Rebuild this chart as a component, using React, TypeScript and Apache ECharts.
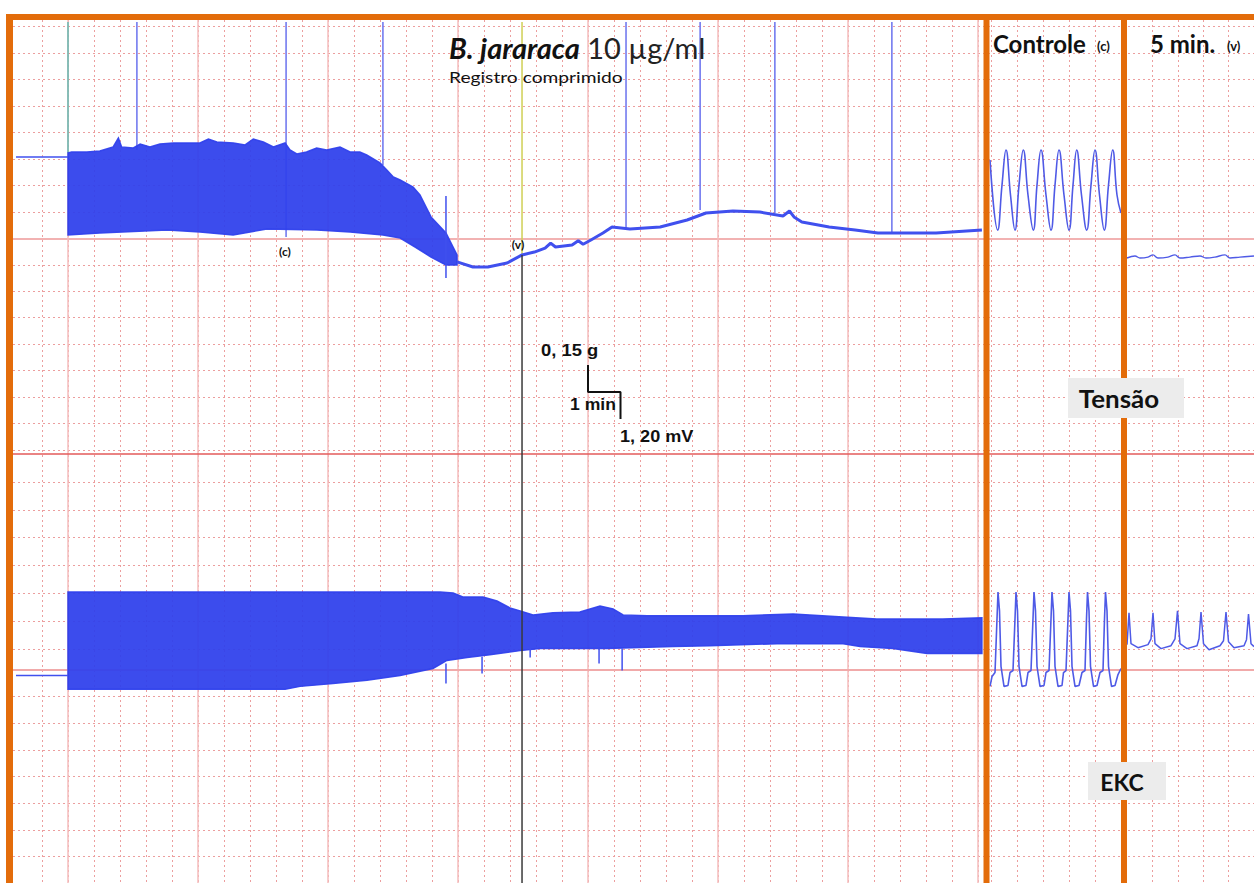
import React, { useEffect, useRef } from "react";
import * as echarts from "echarts";

// ===== Compressed record (main panel): time in minutes, tension in g, EKC in mV =====
const TIME_MIN = -1.6;
const TIME_MAX = 28.2;
const TENSION_MIN = 0;
const TENSION_MAX = 2.4;
const EKC_MIN = -9.6;
const EKC_MAX = 9.6;

// Tension baseline before recording starts
const tensionBaseline: [number, number][] = [[-1.6, 1.65], [0, 1.65]];

// Envelope of the dense tension oscillation (upper = systolic, lower = diastolic)
const tensionUpper: [number, number][] = [
  [0, 1.672], [0.11, 1.678], [0.58, 1.678], [0.98, 1.683], [1.39, 1.706], [1.55, 1.756], [1.65, 1.706],
  [2.01, 1.7], [2.22, 1.722], [2.52, 1.706], [2.83, 1.722], [3.24, 1.728], [3.65, 1.728], [4.06, 1.728],
  [4.32, 1.75], [4.58, 1.733], [5.09, 1.728], [5.45, 1.717], [5.7, 1.75], [6.01, 1.733], [6.32, 1.706],
  [6.68, 1.728], [6.83, 1.689], [7.04, 1.667], [7.34, 1.678], [7.65, 1.7], [7.96, 1.689], [8.37, 1.706],
  [8.68, 1.678], [8.98, 1.678], [9.19, 1.661], [9.6, 1.617], [9.81, 1.578], [10.01, 1.539], [10.22, 1.522],
  [10.62, 1.483], [10.83, 1.439], [11.17, 1.317], [11.63, 1.228], [11.97, 1.106],
];
const tensionLower: [number, number][] = [
  [0, 1.217], [0.98, 1.228], [3.05, 1.244], [4.06, 1.233], [5.08, 1.217], [6.12, 1.25], [7.66, 1.244],
  [8.68, 1.233], [9.69, 1.217], [10.22, 1.2], [10.68, 1.15], [11.17, 1.094], [11.63, 1.05], [11.97, 1.05],
];
// Tension after contractions stop
const tensionTrace: [number, number][] = [
  [11.97, 1.067], [12.46, 1.039], [12.92, 1.039], [13.51, 1.061], [13.97, 1.106], [14.35, 1.122],
  [14.68, 1.144], [14.85, 1.172], [15.0, 1.15], [15.51, 1.161], [15.7, 1.185], [15.85, 1.165],
  [16.09, 1.189], [16.46, 1.228], [16.74, 1.261], [17.29, 1.25], [18.22, 1.261], [19.05, 1.3],
  [19.63, 1.339], [20.46, 1.35], [21.29, 1.344], [22.0, 1.322], [22.2, 1.35], [22.35, 1.315],
  [22.58, 1.289], [23.42, 1.261], [24.22, 1.244], [24.92, 1.228], [25.54, 1.228], [26.71, 1.228],
  [28.12, 1.244],
];
// Event markers: time (min) and lower end (g) of each vertical line
const eventTimes = [0, 2.12, 6.71, 9.69, 13.97, 17.17, 19.45, 21.75, 25.35];
const eventEnds = [1.672, 1.689, 1.206, 1.606, 1.106, 1.244, 1.356, 1.339, 1.228];
const eventColors = ["#63b9b0", "#6a72ee", "#6a72ee", "#6a72ee", "#cfcf55", "#6a72ee", "#6a72ee", "#6a72ee", "#6a72ee"];
const venomTime = 13.97;
const venomTensionEnd = 1.106;

// Artefact spikes: [time, from, to]
const tensionSpikes: [number, number, number][] = [[11.63, 1.433, 0.978]];
const ekcSpikes: [number, number, number][] = [
  [11.63, 0.22, -0.67], [12.74, 0.53, -0.22], [14.22, 0.89, 0.49], [16.34, 0.89, 0.22], [17.05, 0.89, -0.09],
];

// EKC (main panel)
const ekcBaseline: [number, number][] = [[-1.6, -0.31], [0, -0.31]];
const ekcUpper: [number, number][] = [
  [0, 3.42], [11.45, 3.42], [11.85, 3.38], [12.15, 3.2], [12.77, 3.2], [13.2, 3.02], [13.6, 2.71],
  [13.91, 2.58], [14.31, 2.4], [14.92, 2.49], [15.75, 2.53], [16.37, 2.8], [16.77, 2.67], [17.08, 2.4],
  [17.82, 2.36], [19.66, 2.36], [20.77, 2.36], [22.31, 2.44], [23.85, 2.31], [24.89, 2.22], [26.92, 2.22],
  [28.12, 2.27],
];
const ekcLower: [number, number][] = [
  [0, -0.93], [6.68, -0.93], [7.14, -0.8], [8.15, -0.67], [9.2, -0.53], [10.22, -0.31], [11.23, 0],
  [11.66, 0.36], [12.28, 0.49], [12.98, 0.62], [13.91, 0.8], [14.52, 0.89], [16.58, 0.89], [18.62, 0.98],
  [19.75, 1.02], [21.82, 1.11], [23.85, 1.11], [24.37, 0.98], [25.38, 0.89], [26.43, 0.67], [28.12, 0.67],
];

// Scale bar (in tension units): 0,15 g vertical, 1 min horizontal, 1,20 mV vertical
const scaleBar: [number, number][] = [[16, 0.494], [16, 0.344], [17, 0.344], [17, 0.194]];

// ===== Expanded panels: time in s =====
const ctrlTension: [number, number][] = [
  [0, 1.633], [0.077, 1.244], [0.12, 1.494], [0.16, 1.689], [0.205, 1.439], [0.25, 1.244], [0.29, 1.494],
  [0.333, 1.689], [0.38, 1.439], [0.433, 1.244], [0.47, 1.494], [0.51, 1.689], [0.56, 1.439], [0.61, 1.244],
  [0.65, 1.494], [0.69, 1.689], [0.74, 1.439], [0.79, 1.244], [0.83, 1.494], [0.867, 1.689], [0.915, 1.439],
  [0.967, 1.244], [1.01, 1.494], [1.05, 1.689], [1.095, 1.439], [1.143, 1.244], [1.185, 1.494], [1.227, 1.689],
  [1.27, 1.439], [1.31, 1.339],
];
const ctrlEkc: [number, number][] = [
  [0, -0.8], [0.02, -0.36], [0.05, -0.18], [0.07, 2.22], [0.08, 3.42], [0.095, 2.58], [0.11, 0.09], [0.14, -0.8], [0.18, -0.76],
  [0.2, -0.18], [0.23, -0.09], [0.25, 2.22], [0.26, 3.42], [0.275, 2.58], [0.29, 0.09], [0.32, -0.8], [0.36, -0.76],
  [0.38, -0.18], [0.41, -0.09], [0.43, 2.22], [0.44, 3.42], [0.455, 2.58], [0.47, 0.09], [0.5, -0.8], [0.54, -0.76],
  [0.56, -0.18], [0.59, -0.09], [0.61, 2.22], [0.62, 3.42], [0.635, 2.58], [0.65, 0.09], [0.68, -0.8], [0.72, -0.76],
  [0.735, -0.18], [0.76, -0.09], [0.78, 2.22], [0.79, 3.42], [0.805, 2.58], [0.82, 0.09], [0.85, -0.8], [0.89, -0.76],
  [0.92, -0.18], [0.95, -0.09], [0.965, 2.22], [0.975, 3.42], [0.99, 2.58], [1.005, 0.09], [1.035, -0.8], [1.07, -0.76],
  [1.1, -0.18], [1.13, -0.09], [1.145, 2.22], [1.155, 3.42], [1.17, 2.58], [1.185, 0.09], [1.215, -0.8], [1.25, -0.76],
  [1.28, -0.27], [1.31, 0],
];
const fiveTension: [number, number][] = [
  [0, 1.089], [0.08, 1.1], [0.13, 1.089], [0.21, 1.094], [0.26, 1.106], [0.31, 1.089], [0.41, 1.094],
  [0.48, 1.106], [0.53, 1.089], [0.63, 1.094], [0.73, 1.1], [0.79, 1.089], [0.88, 1.094], [0.98, 1.106],
  [1.03, 1.089], [1.13, 1.094], [1.27, 1.1],
];
const fiveEkc: [number, number][] = [
  [0, 1.07], [0.02, 2.49], [0.04, 1.11], [0.11, 0.93], [0.21, 1.07], [0.24, 1.33], [0.26, 2.49], [0.28, 1.11],
  [0.34, 0.89], [0.44, 1.02], [0.48, 1.33], [0.505, 2.58], [0.53, 1.11], [0.6, 0.89], [0.7, 1.02], [0.72, 1.33],
  [0.74, 2.53], [0.765, 1.11], [0.82, 0.84], [0.93, 1.02], [0.965, 1.24], [0.99, 2.53], [1.015, 1.2], [1.07, 0.93],
  [1.17, 1.02], [1.195, 1.29], [1.215, 2.44], [1.24, 1.11], [1.27, 0.98],
];

const ORANGE = "#e36c0a";
const DOT = { color: "#ec9e9e", width: 1, type: [2, 3] as number[] };
const BAND = "#3041ec";
const TRACE = "#4050ee";
const SIDE = "#4f5ae6";

const hidden = { show: false };

function bgAxis(gridIndex: number, extra: any) {
  return {
    gridIndex,
    type: "value",
    axisLine: { show: false },
    axisTick: { show: false },
    axisLabel: { show: false },
    ...extra,
  };
}

function bandSeries(idx: number, upper: [number, number][], lower: [number, number][]) {
  return {
    type: "custom",
    xAxisIndex: idx,
    yAxisIndex: idx,
    z: 5,
    silent: true,
    clip: false,
    data: [upper[0]],
    renderItem: (_p: any, api: any) => {
      const pts = upper.map((p) => api.coord(p)).concat(lower.slice().reverse().map((p) => api.coord(p)));
      return {
        type: "polygon",
        shape: { points: pts },
        style: { fill: BAND, opacity: 0.94, stroke: BAND, lineWidth: 1.5 },
      };
    },
  };
}

function spikeSeries(idx: number, spikes: [number, number, number][], color: string) {
  return {
    type: "custom",
    xAxisIndex: idx,
    yAxisIndex: idx,
    z: 6,
    silent: true,
    data: spikes,
    renderItem: (_p: any, api: any) => {
      const a = api.coord([api.value(0), api.value(1)]);
      const b = api.coord([api.value(0), api.value(2)]);
      return { type: "line", shape: { x1: a[0], y1: a[1], x2: b[0], y2: b[1] }, style: { stroke: color, lineWidth: 1.5 } };
    },
  };
}

function lineSeries(idx: number, data: any[], color: string, width: number, extra: any = {}) {
  return {
    type: "line",
    xAxisIndex: idx,
    yAxisIndex: idx,
    data,
    showSymbol: false,
    silent: true,
    z: 6,
    lineStyle: { color, width },
    ...extra,
  };
}

function text(x: number, y: number, t: string, font: any, align = "left", scaleX = 1) {
  return {
    type: "text",
    x,
    y,
    scaleX,
    z: 120,
    silent: true,
    style: {
      text: t,
      fill: "#111",
      align,
      textAlign: align,
      verticalAlign: "middle",
      textVerticalAlign: "middle",
      ...font,
    },
  };
}

export default function App() {
  const ref = useRef<HTMLDivElement>(null);
  useEffect(() => {
    const chart = echarts.init(ref.current!, null, { renderer: "svg" });
    const grids = [
      { left: 13, right: 0, top: 26.7, height: 423.2 }, // 0 horizontal lines (top)
      { left: 13, right: 0, top: 454, height: 195.3 }, // 1 horizontal lines (bottom a)
      { left: 16, width: 962, top: 20, bottom: 0 }, // 2 vertical minor main
      { left: 68, width: 910, top: 20, bottom: 0 }, // 3 vertical major main
      { left: 991, width: 130, top: 20, bottom: 0 }, // 4 vertical ctrl
      { left: 1127, width: 130, top: 20, bottom: 0 }, // 5 vertical five
      { left: 16, width: 968.5, top: 22, height: 432 }, // 6 main tension
      { left: 16, width: 968.5, top: 454, height: 432 }, // 7 main EKC
      { left: 990, width: 131, top: 22, height: 432 }, // 8 ctrl tension
      { left: 990, width: 131, top: 454, height: 432 }, // 9 ctrl EKC
      { left: 1127, width: 127, top: 22, height: 432 }, // 10 five tension
      { left: 1127, width: 127, top: 454, height: 432 }, // 11 five EKC
      { left: 13, right: 0, top: 670, height: 223.2 }, // 12 horizontal lines (bottom b)
    ];
    const xAxis: any[] = [
      bgAxis(0, { show: false, min: 0, max: 1 }),
      bgAxis(1, { position: "top", min: 0, max: 1, axisLine: { show: true, onZero: false, lineStyle: { color: "#e35b5b", width: 1.5 } }, splitLine: hidden }),
      bgAxis(2, { min: 0, max: 37, interval: 1, splitLine: { show: true, showMinLine: false, lineStyle: DOT } }),
      bgAxis(3, { min: 0, max: 7, interval: 1, splitLine: { show: true, lineStyle: { color: "#f4bdbd", width: 1.5 } } }),
      bgAxis(4, { min: 0, max: 5, interval: 1, splitLine: { show: true, showMaxLine: false, lineStyle: DOT } }),
      bgAxis(5, { min: 0, max: 5, interval: 1, splitLine: { show: true, showMinLine: false, lineStyle: DOT } }),
      { gridIndex: 6, type: "value", show: false, min: TIME_MIN, max: TIME_MAX },
      { gridIndex: 7, type: "value", show: false, min: TIME_MIN, max: TIME_MAX },
      { gridIndex: 8, type: "value", show: false, min: 0, max: 1.31 },
      { gridIndex: 9, type: "value", show: false, min: 0, max: 1.31 },
      { gridIndex: 10, type: "value", show: false, min: 0, max: 1.27 },
      { gridIndex: 11, type: "value", show: false, min: 0, max: 1.27 },
      bgAxis(12, { position: "top", min: 0, max: 1, axisLine: { show: true, onZero: false, lineStyle: { color: "#f1aaaa", width: 2 } }, splitLine: hidden }),
    ];
    const yAxis: any[] = [
      bgAxis(0, { min: 0, max: 16, interval: 1, splitLine: { show: true, lineStyle: DOT } }),
      bgAxis(1, { min: 0, max: 7, interval: 1, splitLine: { show: true, showMaxLine: false, lineStyle: DOT } }),
      bgAxis(2, { show: false, min: 0, max: 1 }),
      bgAxis(3, { show: false, min: 0, max: 1 }),
      bgAxis(4, { show: false, min: 0, max: 1 }),
      bgAxis(5, { show: false, min: 0, max: 1 }),
      { gridIndex: 6, type: "value", show: false, min: TENSION_MIN, max: TENSION_MAX },
      { gridIndex: 7, type: "value", show: false, min: EKC_MIN, max: EKC_MAX },
      { gridIndex: 8, type: "value", show: false, min: TENSION_MIN, max: TENSION_MAX },
      { gridIndex: 9, type: "value", show: false, min: EKC_MIN, max: EKC_MAX },
      { gridIndex: 10, type: "value", show: false, min: TENSION_MIN, max: TENSION_MAX },
      { gridIndex: 11, type: "value", show: false, min: EKC_MIN, max: EKC_MAX },
      bgAxis(12, { min: 0, max: 8, interval: 1, splitLine: { show: true, showMaxLine: false, lineStyle: DOT } }),
      bgAxis(0, { min: 0, max: 16, interval: 8, splitLine: { show: true, showMinLine: false, showMaxLine: false, lineStyle: { color: "#f2b2b2", width: 2 } } }),
    ];

    const series: any[] = [
      // event markers
      {
        type: "custom",
        xAxisIndex: 6,
        yAxisIndex: 6,
        z: 4,
        silent: true,
        clip: false,
        data: eventTimes.map((t, i) => [t, eventEnds[i]]),
        renderItem: (p: any, api: any) => {
          const a = api.coord([api.value(0), TENSION_MAX]);
          const b = api.coord([api.value(0), api.value(1)]);
          return { type: "line", shape: { x1: a[0], y1: a[1], x2: b[0], y2: b[1] }, style: { stroke: eventColors[p.dataIndex], lineWidth: 1.5 } };
        },
      },
      lineSeries(6, [[venomTime, venomTensionEnd], [venomTime, TENSION_MIN]], "#3a3a3a", 1.5, { z: 7 }),
      lineSeries(7, [[venomTime, EKC_MAX], [venomTime, EKC_MIN]], "#3a3a3a", 1.5, { z: 7 }),
      lineSeries(6, tensionBaseline, TRACE, 1.5),
      bandSeries(6, tensionUpper, tensionLower),
      lineSeries(6, tensionTrace, TRACE, 3),
      spikeSeries(6, tensionSpikes, TRACE),
      lineSeries(6, scaleBar, "#111", 2, { z: 8 }),
      lineSeries(7, ekcBaseline, TRACE, 1.5),
      bandSeries(7, ekcUpper, ekcLower),
      spikeSeries(7, ekcSpikes, TRACE),
      lineSeries(8, ctrlTension, SIDE, 1.6, { smooth: 0.45 }),
      lineSeries(9, ctrlEkc, SIDE, 1.6),
      lineSeries(10, fiveTension, SIDE, 1.4, { smooth: 0.4 }),
      lineSeries(11, fiveEkc, SIDE, 1.5),
    ];

    const lato = (size: number, weight = "normal", style = "normal") => ({
      fontFamily: "Lato",
      fontSize: size,
      fontWeight: weight,
      fontStyle: style,
    });
    const arial = (size: number) => ({ fontFamily: "Liberation Sans", fontSize: size, fontWeight: "bold" });

    const graphic: any[] = [
      { type: "rect", z: 100, silent: true, shape: { x: 6, y: 14, width: 1248, height: 6 }, style: { fill: ORANGE } },
      { type: "rect", z: 100, silent: true, shape: { x: 6, y: 14, width: 7, height: 869 }, style: { fill: ORANGE } },
      { type: "rect", z: 100, silent: true, shape: { x: 983.5, y: 14, width: 6, height: 869 }, style: { fill: ORANGE } },
      { type: "rect", z: 100, silent: true, shape: { x: 1121, y: 14, width: 6, height: 869 }, style: { fill: ORANGE } },
      { type: "rect", z: 110, silent: true, shape: { x: 1068, y: 378, width: 116, height: 40 }, style: { fill: "#ececec" } },
      { type: "rect", z: 110, silent: true, shape: { x: 1088, y: 762, width: 78, height: 38 }, style: { fill: "#ececec" } },
      text(1119, 398, "Tensão", lato(24, "bold"), "center", 1.08),
      text(1122, 782, "EKC", lato(23, "bold"), "center"),
      {
        type: "text",
        x: 449,
        y: 47,
        z: 120,
        silent: true,
        style: {
          text: "{a|B. jararaca}{b| 10 µg/ml}",
          verticalAlign: "middle",
          textVerticalAlign: "middle",
          rich: {
            a: { fontFamily: "Lato", fontSize: 29, fontWeight: "bold", fontStyle: "italic", fill: "#111" },
            b: { fontFamily: "Lato", fontSize: 29, fill: "#222" },
          },
        },
      },
      text(449, 77, "Registro comprimido", lato(16), "left", 1.2),
      text(285, 251, "(c)", lato(12, "bold"), "center"),
      text(518, 244, "(v)", lato(12, "bold"), "center"),
      text(993, 43, "Controle", lato(24, "bold")),
      text(1097, 46, "(c)", lato(13, "bold")),
      text(1150, 43, "5 min.", lato(24, "bold")),
      text(1227, 46, "(v)", lato(13, "bold")),
      text(541, 350, "0, 15 g", arial(16), "left", 1.15),
      text(570, 405, "1 min", arial(16), "left", 1.1),
      text(620, 437, "1, 20 mV", arial(16), "left", 1.13),
    ];

    chart.setOption({
      animation: false,
      backgroundColor: "#ffffff",
      grid: grids,
      xAxis,
      yAxis,
      series,
      graphic,
    });
    return () => chart.dispose();
  }, []);
  return (
    <div
      ref={ref}
      style={{ position: "fixed", left: 0, top: 0, width: 1254, height: 883, background: "#fff" }}
    />
  );
}
